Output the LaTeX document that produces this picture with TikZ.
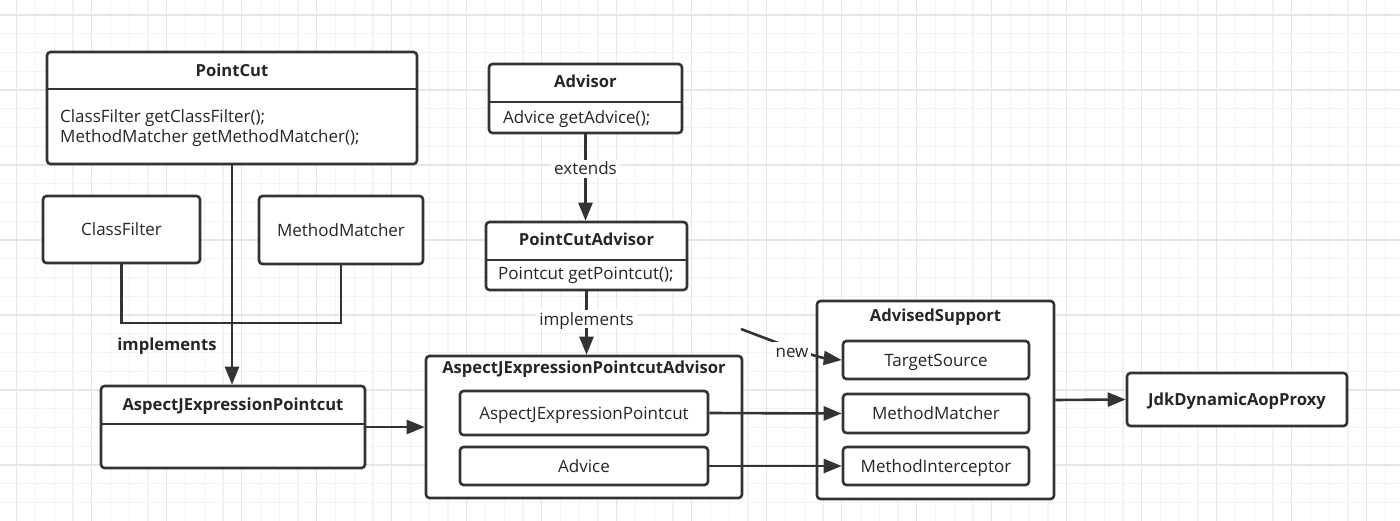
\documentclass[tikz,border=0pt]{standalone}
\usepackage{fontspec}
\setmainfont{Open Sans}
\usetikzlibrary{arrows.meta}
\definecolor{lc}{HTML}{333333}
\definecolor{tc}{HTML}{262626}
\definecolor{gminor}{HTML}{F3F3F3}
\definecolor{gmajor}{HTML}{E6E6E6}
\begin{document}
\begin{tikzpicture}[x=1pt,y=-1pt,
  txt/.style={font=\fontsize{17}{20}\selectfont, text=tc, inner sep=0pt, text height=12.1pt, text depth=0pt},
  btxt/.style={font=\fontsize{16.6}{20}\selectfont\bfseries, text=tc, inner sep=0pt, text height=11.9pt, text depth=0pt},
  box/.style={draw=lc, line width=2.6pt, rounded corners=3.5pt, fill=white, inner sep=0pt},
  sepline/.style={draw=lc, line width=1.8pt},
  conn/.style={draw=lc, line width=2.6pt},
  arr/.style={conn, -{Triangle[length=18pt,width=14pt]}},
  lbl/.style={txt, fill=white, inner sep=3pt}
]
\useasboundingbox (0,0) rectangle (1400,521);
\fill[white] (0,0) rectangle (1400,521);
% grid
\begin{scope}
\clip (0,0) rectangle (1400,521);
\foreach \i in {0,...,76}{\draw[gminor, line width=1.3pt] ({-2.05+18.75*\i},0) -- ({-2.05+18.75*\i},521);}
\foreach \j in {0,...,29}{\draw[gminor, line width=1.3pt] (0,{-3.75+18.75*\j}) -- (1400,{-3.75+18.75*\j});}
\foreach \i in {0,...,19}{\draw[gmajor, line width=1.5pt] ({16.7+75*\i},0) -- ({16.7+75*\i},521);}
\foreach \j in {0,...,7}{\draw[gmajor, line width=1.5pt] (0,{15+75*\j}) -- (1400,{15+75*\j});}
\end{scope}

% PointCut
\node[box, minimum width=370, minimum height=112] (pc) at (232,108) {};
\draw[sepline] (pc.west |- 0,89) -- (pc.east |- 0,89);
\node[btxt] (pct) at (232,71) {PointCut};
\node[txt, anchor=west, align=left, text height=, text depth=] (pcb) at (60,128) {ClassFilter getClassFilter();\\MethodMatcher getMethodMatcher();};

% ClassFilter / MethodMatcher
\node[box, minimum width=157, minimum height=67] (cf) at (121.5,229.5) {};
\node[txt] (cft) at (cf.center) {ClassFilter};
\node[box, minimum width=164, minimum height=68] (mmt) at (341,230) {};
\node[txt] (mmtt) at (mmt.center) {MethodMatcher};

% AspectJExpressionPointcut
\node[box, minimum width=264, minimum height=82] (ajp) at (233,427) {};
\draw[sepline] (ajp.west |- 0,424) -- (ajp.east |- 0,424);
\node[btxt] (ajpt) at (233,405) {AspectJExpressionPointcut};

% Advisor
\node[box, minimum width=193, minimum height=69] (adv) at (585.5,98.5) {};
\draw[sepline] (adv.west |- 0,102) -- (adv.east |- 0,102);
\node[btxt] (advt) at (585.5,82) {Advisor};
\node[txt, anchor=west] (advb) at (503,117.5) {Advice getAdvice();};

% PointCutAdvisor
\node[box, minimum width=201, minimum height=68] (pca) at (586.5,256) {};
\draw[sepline] (pca.west |- 0,260) -- (pca.east |- 0,260);
\node[btxt] (pcat) at (586.5,240) {PointCutAdvisor};
\node[txt, anchor=west] (pcab) at (498,273.5) {Pointcut getPointcut();};

% AspectJExpressionPointcutAdvisor
\node[box, minimum width=316, minimum height=142] (ajpa) at (584,427) {};
\node[btxt] (ajpat) at (584,368) {AspectJExpressionPointcutAdvisor};
\node[box, minimum width=248, minimum height=44] (ajpin) at (584,413) {};
\node[txt] (ajpint) at (ajpin.center) {AspectJExpressionPointcut};
\node[box, minimum width=248, minimum height=38] (advin) at (584,466) {};
\node[txt] (advint) at (advin.center) {Advice};

% AdvisedSupport
\node[box, minimum width=237, minimum height=198] (as) at (935.5,400) {};
\node[btxt] (ast) at (935.5,316) {AdvisedSupport};
\node[box, minimum width=186, minimum height=38] (ts) at (936,360) {};
\node[txt] (tst) at (ts.center) {TargetSource};
\node[box, minimum width=186, minimum height=39] (mm) at (936,413.5) {};
\node[txt] (mmtx) at (mm.center) {MethodMatcher};
\node[box, minimum width=186, minimum height=38] (mi) at (936,466) {};
\node[txt] (mit) at (mi.center) {MethodInterceptor};

% JdkDynamicAopProxy
\node[box, minimum width=220, minimum height=53] (jdk) at (1237,399.5) {};
\node[btxt] (jdkt) at (jdk.center) {JdkDynamicAopProxy};

% connectors
\draw[conn] (cf.south) -- (cf.south |- 0,323) -| (mmt.south);
\draw[arr] (pc.south) -- (pc.south |- ajp.north);
\node[btxt] (impl1) at (167,345) {implements};
\draw[arr] (ajp.east) -- (ajpa.west);
\draw[arr] (adv.south) -- (adv.south |- pca.north) node[lbl, pos=0.4] (ext) {extends};
\draw[arr] (pca.south) -- (pca.south |- ajpa.north) node[lbl, pos=0.44] (impl2) {implements};
\draw[arr] (ajpin.east) -- (mm.west);
\draw[arr] (advin.east) -- (mi.west);
\draw[arr] (as.east) -- (jdk.west);
\coordinate (newstart) at (741,329);
\draw[arr] (newstart) .. controls (775,342) and (815,357) .. (ts.west);
\node[lbl] (newl) at (792,351) {new};
\end{tikzpicture}
\end{document}
